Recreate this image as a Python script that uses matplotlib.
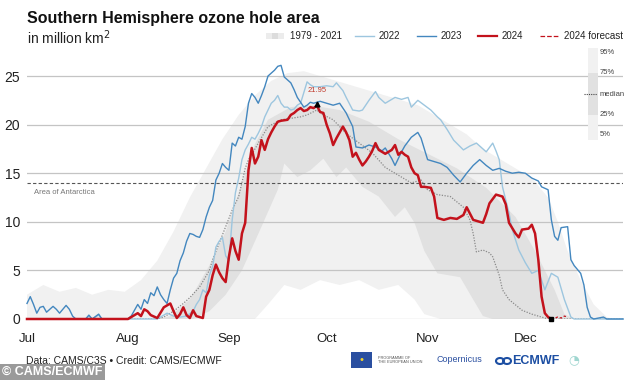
import matplotlib

matplotlib.use("Agg")
import matplotlib.pyplot as plt
from matplotlib.patches import Rectangle, Ellipse
from matplotlib.lines import Line2D

plt.rcParams["font.family"] = ["Liberation Sans", "DejaVu Sans"]

# x = days after 1 July, y = ozone hole area in million km2
DAYS_2022 = [0, 18, 19, 20, 22, 23, 40, 43, 45, 47, 49, 51, 52, 53, 54, 55, 56, 57, 58, 59, 60, 61, 62,
             63, 64, 65, 66, 67, 68, 69, 70, 71, 72, 73, 74, 75, 76, 77, 78, 79, 80, 81, 82, 83, 84, 85,
             86, 87, 88, 90, 92, 94, 95, 97, 98, 100, 102, 103, 105, 107, 108, 110, 112, 113, 115, 117,
             118, 120, 122, 124, 126, 127, 129, 131, 134, 136, 138, 140, 141, 143, 144, 145, 146, 148,
             149, 151, 153, 155, 157, 159, 161, 163, 165, 167, 168, 183]
AREA_2022 = [0, 0, 0.3, 0, 0.4, 0, 0, 0.6, 0.3, 0.2, 0.3, 0.8, 1.5, 2.0, 3.0, 2.7, 4.5, 5.4, 7.4, 8.0, 8.4,
             6.5, 6.0, 10.2, 13.0, 14.5, 16.4, 17.4, 18.0, 18.7, 18.5, 19.1, 19.8, 20.8, 21.5, 22.2, 22.5,
             23.0, 22.2, 21.8, 21.8, 21.5, 21.6, 22.0, 22.2, 23.3, 24.4, 24.1, 23.9, 23.9, 24.0, 23.9,
             24.3, 23.5, 22.8, 21.5, 21.4, 21.5, 22.5, 23.4, 22.8, 22.2, 22.6, 22.8, 22.6, 22.8, 21.8,
             22.5, 22.0, 21.5, 20.8, 20.5, 19.5, 18.4, 17.4, 17.8, 18.1, 17.5, 17.2, 18.1, 17.3, 16.4,
             13.6, 10.9, 9.2, 7.1, 5.8, 4.7, 5.0, 3.0, 4.7, 4.3, 2.0, 0.2, 0, 0]

DAYS_2023 = [0, 1, 2, 3, 4, 5, 6, 8, 9, 10, 12, 13, 14, 15, 18, 19, 20, 22, 23, 31, 32, 34, 35, 36, 37,
             38, 39, 40, 41, 42, 43, 44, 45, 46, 47, 48, 49, 50, 51, 52, 53, 54, 55, 56, 57, 58, 59, 60,
             61, 62, 63, 64, 65, 66, 67, 68, 69, 70, 71, 72, 73, 74, 75, 76, 77, 78, 79, 80, 81, 82, 83,
             84, 85, 86, 87, 88, 90, 92, 94, 96, 98, 100, 101, 103, 105, 107, 109, 110, 112, 113, 115,
             116, 118, 120, 121, 123, 125, 127, 129, 131, 133, 135, 137, 139, 141, 143, 145, 147, 149,
             151, 153, 155, 157, 158, 160, 161, 162, 163, 164, 166, 167, 168, 170, 171, 172, 173, 174,
             177, 178, 183]
AREA_2023 = [1.6, 2.3, 1.5, 0.6, 1.2, 1.3, 0.7, 1.3, 1.0, 0.6, 1.4, 1.0, 0.3, 0, 0, 0.4, 0, 0.5, 0, 0,
             0.3, 1.5, 1.0, 2.0, 1.6, 2.7, 2.4, 3.3, 2.5, 2.0, 1.6, 3.0, 4.2, 4.7, 6.0, 6.8, 8.0, 8.8,
             8.7, 8.5, 8.4, 9.2, 10.5, 11.5, 12.2, 14.3, 15.0, 16.0, 15.6, 15.3, 18.1, 17.8, 18.7, 18.5,
             19.8, 22.2, 23.2, 22.8, 22.2, 23.0, 23.9, 25.0, 25.3, 25.6, 26.0, 26.1, 24.9, 24.6, 24.3,
             23.6, 22.8, 22.3, 21.8, 22.0, 22.3, 22.2, 22.4, 22.2, 22.0, 22.2, 21.2, 19.8, 17.7, 17.6,
             17.9, 17.7, 17.3, 17.6, 16.5, 15.8, 17.2, 17.8, 18.7, 19.2, 18.6, 16.4, 16.2, 16.0, 15.6,
             14.8, 14.1, 15.0, 15.8, 16.4, 15.8, 15.3, 15.5, 15.2, 15.0, 15.1, 15.0, 14.5, 14.2, 13.6,
             13.3, 10.2, 8.5, 8.1, 9.4, 9.5, 6.1, 5.5, 4.7, 3.5, 1.2, 0.2, 0, 0.2, 0, 0]

DAYS_2024 = [0, 31, 32, 34, 35, 36, 37, 38, 40, 42, 44, 45, 46, 47, 48, 49, 50, 51, 52, 54, 55, 56, 57,
             58, 59, 60, 61, 62, 63, 64, 65, 66, 67, 68, 69, 70, 71, 72, 73, 74, 75, 76, 77, 78, 80, 81,
             82, 83, 84, 85, 86, 87, 88, 89, 90, 91, 92, 93, 94, 95, 96, 97, 98, 99, 100, 101, 102, 103,
             104, 105, 106, 107, 108, 109, 110, 111, 112, 113, 114, 115, 116, 117, 118, 119, 120, 121,
             122, 124, 125, 126, 128, 130, 132, 134, 135, 137, 139, 140, 141, 142, 144, 146, 147, 148,
             150, 151, 152, 154, 155, 156, 157, 158, 159, 160, 161]
AREA_2024 = [0, 0, 0.2, 0.6, 0.3, 1.0, 0.8, 0.4, 0.1, 1.2, 1.6, 0.8, 0.1, 0.5, 1.2, 0.4, 0.1, 0.9, 0.3,
             0.1, 2.3, 3.0, 4.5, 5.6, 4.8, 4.2, 3.8, 6.4, 8.3, 7.0, 6.1, 8.8, 9.9, 15.3, 17.6, 16.0, 16.7,
             18.4, 17.4, 18.5, 19.2, 19.8, 20.3, 20.4, 20.5, 21.0, 21.2, 21.5, 21.7, 21.4, 21.5, 21.8,
             21.7, 21.95, 21.3, 21.2, 20.0, 19.1, 17.9, 18.6, 19.2, 19.8, 19.2, 18.4, 16.7, 17.1, 16.4,
             15.8, 16.2, 16.7, 17.3, 18.1, 17.4, 17.2, 17.0, 17.2, 17.4, 17.9, 16.9, 17.2, 16.9, 16.7,
             15.6, 15.0, 14.8, 13.6, 13.6, 13.5, 12.6, 10.4, 10.2, 10.4, 10.3, 10.7, 11.5, 10.2, 10.0,
             9.9, 10.8, 11.9, 12.8, 12.6, 11.8, 9.9, 8.8, 8.4, 9.2, 9.3, 9.7, 8.8, 6.1, 2.3, 0.6, 0.2, 0.0]

DAYS_FCST = [161, 162, 163, 164, 165, 166]
AREA_FCST = [0.0, 0.1, 0.2, 0.1, 0.3, 0.2]

DAYS_MED = [0, 40, 42, 45, 48, 50, 53, 56, 57, 59, 61, 63, 65, 67, 68, 70, 71, 74, 78, 82, 84, 86, 89, 91,
            94, 98, 102, 106, 110, 114, 118, 121, 123, 126, 130, 134, 136, 137, 138, 140, 142, 143, 145,
            146, 148, 152, 155, 158, 160, 183]
AREA_MED = [0, 0, 0.2, 0.8, 1.6, 2.2, 3.3, 5.0, 6.1, 7.8, 9.5, 11.2, 12.6, 15.5, 16.4, 17.5, 18.1, 19.8,
            20.5, 20.7, 20.8, 21.0, 21.5, 21.0, 20.5, 19.1, 18.1, 17.1, 15.6, 14.8, 14.0, 14.3, 13.3, 12.8,
            12.6, 11.5, 10.2, 8.8, 6.9, 7.1, 6.8, 6.4, 4.5, 3.0, 2.0, 0.9, 0.5, 0.2, 0, 0]

# 1979-2021 percentiles
DAYS_P95 = [0, 5, 10, 15, 20, 25, 30, 35, 40, 45, 50, 55, 60, 65, 70, 75, 80, 85, 90, 95, 100, 105, 110,
            115, 120, 125, 130, 135, 140, 145, 150, 155, 160, 163, 166, 170, 174, 178, 180]
AREA_P95 = [2.5, 3.5, 2.8, 3.2, 2.5, 3.0, 2.8, 4.0, 6.0, 9.0, 12.5, 15.5, 18.5, 21.0, 23.0, 24.5, 25.3,
            25.5, 25.0, 24.5, 24.0, 23.5, 23.0, 22.5, 22.0, 21.0, 20.0, 19.0, 17.5, 16.5, 15.5, 14.5, 12.5,
            10.0, 7.0, 4.0, 1.5, 0.2, 0]
DAYS_P75 = [0, 40, 44, 50, 56, 61, 66, 70, 74, 81, 87, 96, 105, 114, 123, 132, 141, 150, 156, 162, 165, 168]
AREA_P75 = [0, 0, 0.3, 2.0, 5.5, 9.0, 14.0, 18.0, 20.5, 21.8, 22.0, 21.5, 20.3, 18.5, 17.0, 15.5, 13.5,
            10.5, 7.0, 3.0, 0.5, 0]
DAYS_P25 = [0, 51, 56, 61, 66, 72, 77, 79, 83, 87, 91, 95, 98, 103, 108, 113, 116, 119, 122, 126, 133,
            137, 140, 143]
AREA_P25 = [0, 0, 0.8, 2.5, 5.0, 9.5, 13.3, 16.0, 14.6, 15.3, 16.5, 14.6, 15.6, 13.6, 12.6, 10.5, 11.5,
            9.9, 7.0, 4.7, 4.3, 2.0, 0.3, 0]
DAYS_P5 = [0, 70, 74, 79, 84, 90, 96, 102, 108, 114, 119, 122, 127, 183]
AREA_P5 = [0, 0, 1.5, 3.5, 3.0, 4.0, 3.5, 4.0, 3.0, 3.5, 2.0, 0.5, 0, 0]

ANTARCTICA = 14.0
PEAK_DAY, PEAK_VAL = 89, 21.95
MONTH_STARTS = [0, 31, 62, 92, 123, 153]
MONTHS = ["Jul", "Aug", "Sep", "Oct", "Nov", "Dec"]
YTICKS = [0, 5, 10, 15, 20, 25]

C22, C23, C24 = "#9dc6df", "#4387bf", "#c3121c"
LIGHT, DARK = "#f1f1f1", "#e1e1e1"
W, H = 634, 380


def fx(px):
    return px / W


def fy(py):
    return 1 - py / H


fig = plt.figure(figsize=(6.34, 3.80), dpi=100)
ax = fig.add_axes([fx(27), fy(319), fx(623) - fx(27), fy(56.6) - fy(319)])

ax.fill(DAYS_P95 + DAYS_P5[::-1], AREA_P95 + AREA_P5[::-1], color=LIGHT, lw=0, zorder=1)
ax.fill(DAYS_P75 + DAYS_P25[::-1], AREA_P75 + AREA_P25[::-1], color=DARK, lw=0, zorder=1.5)

for v in YTICKS:
    ax.axhline(v, color="#c4c4c4", lw=0.9, zorder=2)
ax.axhline(ANTARCTICA, color="#555555", lw=0.8, dashes=(3, 2), zorder=2)
ax.text(2, ANTARCTICA - 1.0, "Area of Antarctica", fontsize=5.5, color="#777777", va="center", zorder=3)

ax.plot(DAYS_MED, AREA_MED, color="#8a8a8a", lw=0.9, ls=(0, (1, 1.2)), zorder=3)
ax.plot(DAYS_2022, AREA_2022, color=C22, lw=1.0, zorder=4, clip_on=False)
ax.plot(DAYS_2023, AREA_2023, color=C23, lw=1.0, zorder=5, clip_on=False)
ax.plot(DAYS_FCST, AREA_FCST, color=C24, lw=0.9, ls=(0, (2, 1.5)), zorder=6, clip_on=False)
ax.plot(DAYS_2024, AREA_2024, color=C24, lw=1.8, zorder=6, clip_on=False)
ax.plot([PEAK_DAY], [PEAK_VAL + 0.2], marker="^", color="black", ms=3.5, zorder=7)
ax.plot([DAYS_2024[-1]], [0.05], marker="s", color="black", ms=2.8, zorder=7, clip_on=False)
ax.text(PEAK_DAY, PEAK_VAL + 1.4, f"{PEAK_VAL:.2f}", fontsize=5.5, color="#c0392b", ha="center", zorder=7)

ax.set_xlim(0, 183)
ax.set_ylim(0, 27)
ax.set_yticks(YTICKS)
ax.set_xticks(MONTH_STARTS)
ax.set_xticklabels(MONTHS)
ax.tick_params(axis="y", length=0, labelsize=10, pad=5, labelcolor="#222222")
ax.tick_params(axis="x", length=0, labelsize=9.5, pad=10, labelcolor="#222222")
for s in ax.spines.values():
    s.set_visible(False)
ax.set_facecolor("white")

# titles
fig.text(fx(27), fy(18), "Southern Hemisphere ozone hole area", fontsize=11.5, fontweight="bold",
         va="center", color="#111111")
fig.text(fx(27), fy(38), "in million km$^2$", fontsize=10, va="center", color="#222222")

# top legend
ly = fy(36)
for x0, c in [(266, "#ececec"), (272, "#dcdcdc"), (278, "#ececec")]:
    fig.add_artist(Rectangle((fx(x0), fy(39)), fx(6), fy(33) - fy(39), color=c, lw=0,
                             transform=fig.transFigure))
fig.text(fx(290), ly, "1979 - 2021", fontsize=7, va="center", color="#222222")
items = [(355, C22, 1.0, "-", "2022"), (417, C23, 1.0, "-", "2023"),
         (478, C24, 1.6, "-", "2024"), (540, C24, 0.9, "--", "2024 forecast")]
for x0, c, lw, ls, lab in items:
    fig.add_artist(Line2D([fx(x0), fx(x0 + 19)], [ly, ly], color=c, lw=lw, ls=ls,
                          transform=fig.transFigure))
    fig.text(fx(x0 + 24), ly, lab, fontsize=7, va="center", color="#222222")

# percentile legend
fig.add_artist(Rectangle((fx(588), fy(140)), fx(10), fy(48) - fy(140), color=LIGHT, lw=0,
                         transform=fig.transFigure))
fig.add_artist(Rectangle((fx(588), fy(115)), fx(10), fy(73) - fy(115), color=DARK, lw=0,
                         transform=fig.transFigure))
fig.add_artist(Line2D([fx(584), fx(597)], [fy(94), fy(94)], color="#444444", lw=0.8, ls=(0, (1, 1)),
                      transform=fig.transFigure))
for lab, py in [("95%", 53), ("75%", 73), ("median", 94), ("25%", 115), ("5%", 135)]:
    fig.text(fx(600), fy(py), lab, fontsize=5.5, va="center", color="#444444")

# footer
fig.text(fx(26), fy(361), "Data: CAMS/C3S \u2022 Credit: CAMS/ECMWF", fontsize=7.5, va="center",
         color="#222222")
fig.text(fx(2), fy(372), "\u00a9 CAMS/ECMWF", fontsize=9, fontweight="bold", va="center", color="white",
         bbox=dict(boxstyle="square,pad=0.2", fc="#9a9a9a", ec="none"))

# logos (approximate)
fig.add_artist(Rectangle((fx(351), fy(368)), fx(21), fy(352) - fy(368), color="#2a4fa0", lw=0,
                         transform=fig.transFigure))
fig.text(fx(361.5), fy(360), "\u2022", fontsize=8, ha="center", va="center", color="#f3d22b")
fig.text(fx(378), fy(360), "PROGRAMME OF\nTHE EUROPEAN UNION", fontsize=2.8, va="center",
         color="#555555", linespacing=1.2)
fig.text(fx(436), fy(360), "Copernicus", fontsize=6.5, va="center", color="#2a4fa0")
for ex in (500, 507):
    fig.add_artist(Ellipse((fx(ex), fy(361)), fx(8), fy(355) - fy(361), fc="none", ec="#1d4fa3",
                           lw=1.5, transform=fig.transFigure))
fig.text(fx(512), fy(361), "ECMWF", fontsize=9, fontweight="bold", va="center", color="#1d4fa3")
fig.text(fx(568), fy(360), "\u25d4", fontsize=9, va="center", color="#9fd6d0",
         family=["DejaVu Sans"])

fig.savefig("out.png", dpi=100, facecolor="white")
